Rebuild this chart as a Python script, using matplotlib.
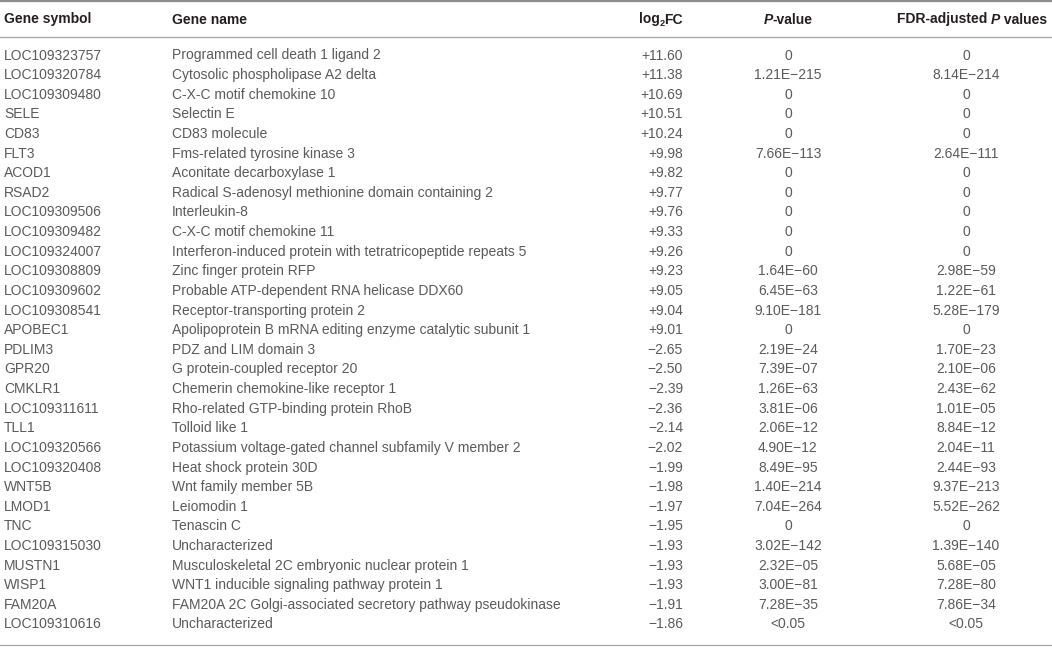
import matplotlib
matplotlib.use('Agg')
import matplotlib.pyplot as plt

MINUS = '\u2212'

symbols = ['LOC109323757', 'LOC109320784', 'LOC109309480', 'SELE', 'CD83', 'FLT3', 'ACOD1', 'RSAD2',
           'LOC109309506', 'LOC109309482', 'LOC109324007', 'LOC109308809', 'LOC109309602',
           'LOC109308541', 'APOBEC1', 'PDLIM3', 'GPR20', 'CMKLR1', 'LOC109311611', 'TLL1',
           'LOC109320566', 'LOC109320408', 'WNT5B', 'LMOD1', 'TNC', 'LOC109315030', 'MUSTN1',
           'WISP1', 'FAM20A', 'LOC109310616']

names = ['Programmed cell death 1 ligand 2',
         'Cytosolic phospholipase A2 delta',
         'C-X-C motif chemokine 10',
         'Selectin E',
         'CD83 molecule',
         'Fms-related tyrosine kinase 3',
         'Aconitate decarboxylase 1',
         'Radical S-adenosyl methionine domain containing 2',
         'Interleukin-8',
         'C-X-C motif chemokine 11',
         'Interferon-induced protein with tetratricopeptide repeats 5',
         'Zinc finger protein RFP',
         'Probable ATP-dependent RNA helicase DDX60',
         'Receptor-transporting protein 2',
         'Apolipoprotein B mRNA editing enzyme catalytic subunit 1',
         'PDZ and LIM domain 3',
         'G protein-coupled receptor 20',
         'Chemerin chemokine-like receptor 1',
         'Rho-related GTP-binding protein RhoB',
         'Tolloid like 1',
         'Potassium voltage-gated channel subfamily V member 2',
         'Heat shock protein 30D',
         'Wnt family member 5B',
         'Leiomodin 1',
         'Tenascin C',
         'Uncharacterized',
         'Musculoskeletal 2C embryonic nuclear protein 1',
         'WNT1 inducible signaling pathway protein 1',
         'FAM20A 2C Golgi-associated secretory pathway pseudokinase',
         'Uncharacterized']

log2fc = [11.60, 11.38, 10.69, 10.51, 10.24, 9.98, 9.82, 9.77, 9.76, 9.33, 9.26, 9.23, 9.05, 9.04, 9.01,
          -2.65, -2.50, -2.39, -2.36, -2.14, -2.02, -1.99, -1.98, -1.97, -1.95, -1.93, -1.93, -1.93,
          -1.91, -1.86]

p_values = ['0', '1.21E-215', '0', '0', '0', '7.66E-113', '0', '0', '0', '0', '0', '1.64E-60',
            '6.45E-63', '9.10E-181', '0', '2.19E-24', '7.39E-07', '1.26E-63', '3.81E-06', '2.06E-12',
            '4.90E-12', '8.49E-95', '1.40E-214', '7.04E-264', '0', '3.02E-142', '2.32E-05',
            '3.00E-81', '7.28E-35', '<0.05']

fdr_values = ['0', '8.14E-214', '0', '0', '0', '2.64E-111', '0', '0', '0', '0', '0', '2.98E-59',
              '1.22E-61', '5.28E-179', '0', '1.70E-23', '2.10E-06', '2.43E-62', '1.01E-05', '8.84E-12',
              '2.04E-11', '2.44E-93', '9.37E-213', '5.52E-262', '0', '1.39E-140', '5.68E-05',
              '7.28E-80', '7.86E-34', '<0.05']

FAMILY = ['Liberation Sans', 'DejaVu Sans']

W, H = 1052, 647
fig = plt.figure(figsize=(W / 100, H / 100), dpi=100)
ax = fig.add_axes([0, 0, 1, 1])
ax.set_xlim(0, W)
ax.set_ylim(H, 0)
ax.axis('off')
renderer = fig.canvas.get_renderer()


def text_width(txt, **style):
    t = ax.text(0, 0, txt, **style)
    w = t.get_window_extent(renderer).width
    t.remove()
    return w


# size the body font so the longest gene name is as wide as in the table (~322 px)
probe = text_width(names[7], family=FAMILY, fontsize=10)
body_size = 10 * 322 / probe

BODY = dict(family=FAMILY, fontsize=body_size, fontweight='normal', color='#5a5a5a')
HEAD = dict(family=FAMILY, fontsize=body_size, fontweight='bold', color='#231f20')
HEAD_IT = dict(HEAD, fontstyle='italic')
HEAD_SUB = dict(HEAD, fontsize=body_size * 0.66)


def fmt_fc(v):
    return ('+' if v > 0 else MINUS) + f'{abs(v):.2f}'


def draw_runs(x, y, runs, ha='left'):
    # runs: (text, style, dy) pieces set next to each other
    widths = [text_width(txt, **style) for txt, style, dy in runs]
    total = sum(widths)
    x0 = {'left': x, 'center': x - total / 2, 'right': x - total}[ha]
    for (txt, style, dy), w in zip(runs, widths):
        ax.text(x0, y + dy, txt, ha='left', va='baseline', **style)
        x0 += w


x_sym, x_name, x_fc, x_p, x_fdr, x_fdr_head = 4, 172, 683, 788, 966, 972

head_y = 23.5
draw_runs(x_sym, head_y, [('Gene symbol', HEAD, 0)])
draw_runs(x_name, head_y, [('Gene name', HEAD, 0)])
draw_runs(x_fc, head_y, [('log', HEAD, 0), ('2', HEAD_SUB, 2.5), ('FC', HEAD, 0)], ha='right')
draw_runs(x_p, head_y, [('P', HEAD_IT, 0), ('-value', HEAD, 0)], ha='center')
draw_runs(x_fdr_head, head_y, [('FDR-adjusted ', HEAD, 0), ('P', HEAD_IT, 0), (' values', HEAD, 0)],
          ha='center')

row0, pitch = 59.5, 19.62
for i in range(len(symbols)):
    y = row0 + i * pitch
    ax.text(x_sym, y, symbols[i], ha='left', va='baseline', **BODY)
    ax.text(x_name, y, names[i], ha='left', va='baseline', **BODY)
    ax.text(x_fc, y, fmt_fc(log2fc[i]), ha='right', va='baseline', **BODY)
    ax.text(x_p, y, p_values[i].replace('-', MINUS), ha='center', va='baseline', **BODY)
    ax.text(x_fdr, y, fdr_values[i].replace('-', MINUS), ha='center', va='baseline', **BODY)

ax.axhline(1.2, color='#8c8c8c', lw=1.6)
ax.axhline(36.5, color='#a6a6a6', lw=0.9)
ax.axhline(644.5, color='#a6a6a6', lw=0.9)

fig.savefig('out.png', dpi=100)
